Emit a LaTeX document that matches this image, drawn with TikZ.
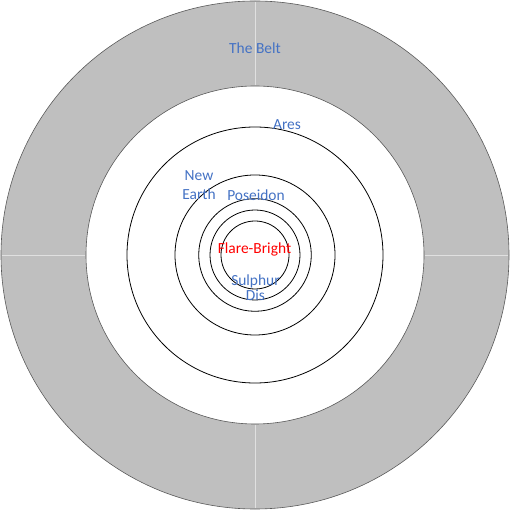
\documentclass[tikz,border=0pt]{standalone}
\usepackage{fontspec}
\setmainfont{Carlito}
\usepackage{xcolor}
\definecolor{labelblue}{HTML}{4472C4}
\definecolor{flarered}{HTML}{FF0000}
\definecolor{beltgray}{HTML}{BFBFBF}
\tikzset{
  belt ring/.style = {fill=beltgray, draw=black!65, line width=0.6pt, even odd rule}
}
\tikzset{
  orbit/.style = {draw=black, line width=0.8pt}
}
\tikzset{
  every node/.style = {font = \fontsize{15.5}{19}\selectfont, text=labelblue, align=center, inner sep=0pt}
}

\begin{document}
\begin{tikzpicture}[x=1bp, y=1bp]
  \useasboundingbox (-255,-256) rectangle (256,255);
  \coordinate (sun) at (0,0);

  % the belt, four quarters
  \draw[belt ring] (sun) circle (254) (sun) circle (169);
  \foreach \a in {0,90,180,270}
    \draw[black!12, line width=0.7pt] (\a:169.6) -- (\a:253.4);

  % orbits
  \foreach \r in {128,80,56.3,45,34}
    \draw[orbit] (sun) circle (\r);

  \node[anchor=base] (belt) at (0,201) {The Belt};
  \node[anchor=base] (ares) at (32,125.7) {Ares};
  \node[anchor=base] (newearth) at (-56,55.7) {New\\[0.3bp]Earth};
  \node[anchor=base] (poseidon) at (1,54.3) {Poseidon};
  \node[anchor=base, text=flarered] (flare) at (-0.5,1) {Flare-Bright};
  \node[anchor=base] (sulphur) at (0.5,-46) {Sulphur\\[-3bp]Dis};
\end{tikzpicture}
\end{document}
